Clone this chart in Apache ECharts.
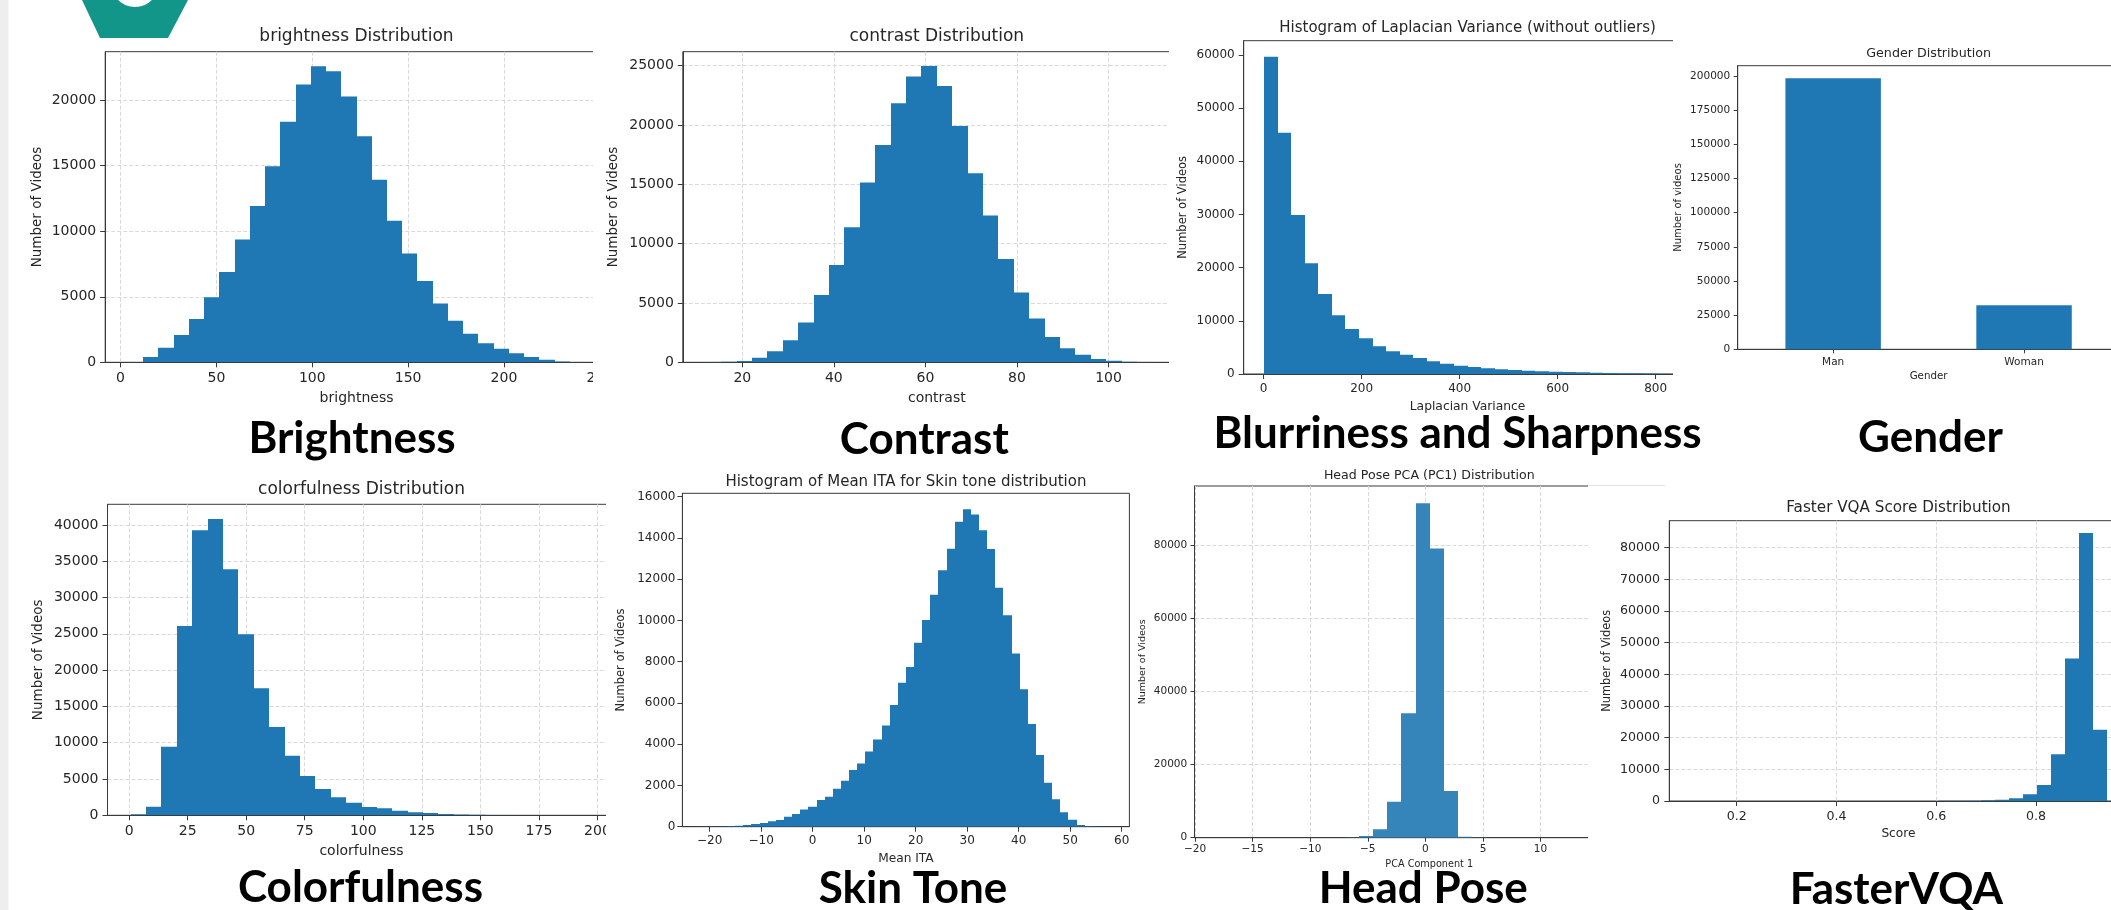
<!DOCTYPE html>
<html>
<head>
<meta charset="utf-8">
<title>Video dataset attribute distributions</title>
<script src="https://cdn.jsdelivr.net/npm/echarts@6.0.0/dist/echarts.min.js"></script>
<style>
  html, body { margin:0; padding:0; width:2111px; height:910px; overflow:hidden; background:#ffffff; }
  .clip { position:absolute; overflow:hidden; background:#ffffff; }
  .chart { position:absolute; width:2160px; height:910px; }
  .overlay { position:absolute; left:0; top:0; width:2111px; height:910px; pointer-events:none; }
</style>
</head>
<body>
<script>
// ================= DATA =================
// Brightness histogram (30 equal bins)
const brightnessBinStart = 3.9;
const brightnessBinWidth = 7.945;
const brightnessCounts = [15, 400, 1118, 2084, 3304, 4955, 6887, 9377, 11918, 14968, 18348, 21194, 22592, 22211, 20280, 17255, 13926, 10800, 8310, 6201, 4480, 3177, 2180, 1448, 1030, 700, 400, 200, 60, 15];
const brightnessXTicks = [0, 50, 100, 150, 200, 250];
const brightnessYTicks = [0, 5000, 10000, 15000, 20000];

// Contrast histogram
const contrastBinStart = 12.04;
const contrastBinWidth = 3.363;
const contrastCounts = [15, 40, 112, 393, 927, 1854, 3343, 5674, 8202, 11376, 15140, 18315, 21826, 24073, 24972, 23287, 19916, 15927, 12360, 8708, 5871, 3680, 2135, 1180, 646, 281, 140, 56, 20, 8];
const contrastXTicks = [20, 40, 60, 80, 100];
const contrastYTicks = [0, 5000, 10000, 15000, 20000, 25000];

// Laplacian variance histogram
const laplacianBinStart = 0.75;
const laplacianBinWidth = 27.7;
const laplacianCounts = [59690, 45392, 29906, 20815, 15047, 11034, 8464, 6708, 5204, 4263, 3636, 3009, 2382, 1944, 1567, 1317, 1066, 878, 752, 627, 502, 439, 376, 313, 251, 188, 157, 125, 94, 63];
const laplacianXTicks = [0, 200, 400, 600, 800];
const laplacianYTicks = [0, 10000, 20000, 30000, 40000, 50000, 60000];

// Gender bar chart
const genderCategories = ['Man', 'Woman'];
const genderCounts = [198300, 32200];
const genderYTicks = [0, 25000, 50000, 75000, 100000, 125000, 150000, 175000, 200000];

// Colorfulness histogram
const colorfulnessBinStart = 0.63;
const colorfulnessBinWidth = 6.574;
const colorfulnessCounts = [140, 1194, 9460, 26085, 39265, 40827, 33892, 24937, 17497, 12170, 8220, 5419, 3628, 2480, 1745, 1148, 964, 643, 413, 321, 184, 115, 69, 40, 25, 15, 10, 6, 4, 2];
const colorfulnessXTicks = [0, 25, 50, 75, 100, 125, 150, 175, 200];
const colorfulnessYTicks = [0, 5000, 10000, 15000, 20000, 25000, 30000, 35000, 40000];

// Skin tone (mean ITA) histogram, 50 bins
const skinToneBinStart = -21.35;
const skinToneBinWidth = 1.578;
const skinToneCounts = [4, 8, 15, 30, 50, 80, 130, 180, 260, 320, 485, 615, 840, 970, 1290, 1450, 1840, 2230, 2750, 3070, 3650, 4230, 4910, 5900, 6980, 7740, 8920, 10020, 11250, 12440, 13480, 14790, 15390, 15140, 14370, 13460, 11590, 10250, 8400, 6660, 4980, 3475, 2133, 1325, 695, 340, 80, 16, 5, 2];
const skinToneXTicks = [-20, -10, 0, 10, 20, 30, 40, 50, 60];
const skinToneYTicks = [0, 2000, 4000, 6000, 8000, 10000, 12000, 14000, 16000];

// Head pose PCA (PC1) histogram
const headPoseBinStart = -18.12;
const headPoseBinWidth = 1.233;
const headPoseCounts = [2, 0, 0, 1, 1, 2, 3, 8, 20, 60, 450, 2280, 9840, 33990, 91390, 79000, 12760, 270, 40, 10, 4, 2, 1, 1, 0, 0, 0, 0, 0, 1];
const headPoseXTicks = [-20, -15, -10, -5, 0, 5, 10, 15, 20];
const headPoseYTicks = [0, 20000, 40000, 60000, 80000];

// FasterVQA score histogram
const fasterVqaBinStart = 0.1013;
const fasterVqaBinWidth = 0.028;
const fasterVqaCounts = [1, 1, 1, 1, 1, 1, 1, 2, 2, 2, 3, 4, 5, 7, 10, 14, 20, 30, 45, 70, 110, 211, 422, 844, 2110, 5066, 14776, 44960, 84644, 22480];
const fasterVqaXTicks = [0.2, 0.4, 0.6, 0.8, 1.0];
const fasterVqaYTicks = [0, 10000, 20000, 30000, 40000, 50000, 60000, 70000, 80000];

// Captions under each panel
const captionTexts = ['Brightness', 'Contrast', 'Blurriness and Sharpness', 'Gender', 'Colorfulness', 'Skin Tone', 'Head Pose', 'FasterVQA'];

// ================= STYLE / LAYOUT =================
const FONT = 'DejaVu Sans';
const TEXT = '#262626';
const AX = '#3a3a3a';
const BAR = '#1f77b4';
const GRIDLINE = '#d9d9d9';

function fmt(v) {
  return String(+(+v).toFixed(6)).replace('-', '\u2212');
}

function textEl(text, x, y, size, extra) {
  return Object.assign({
    type: 'text', x: x, y: y, silent: true,
    style: {
      text: text, fontFamily: FONT, fontSize: size, fill: TEXT,
      align: 'center', verticalAlign: 'middle',
      textAlign: 'center', textVerticalAlign: 'middle'
    }
  }, extra || {});
}

function valueAxis(a) {
  return {
    type: 'value', min: a.min, max: a.max,
    name: a.name, nameLocation: 'middle', nameGap: a.nameGap, nameMoveOverlap: false,
    nameTextStyle: { fontFamily: FONT, fontSize: a.nameSize, color: TEXT },
    axisLine: { show: true, onZero: false, lineStyle: { color: AX, width: 1 } },
    axisTick: { show: true, inside: false, length: a.tickLen || 5, customValues: a.ticks, lineStyle: { color: AX, width: 1 } },
    axisLabel: { show: true, customValues: a.ticks, fontFamily: FONT, fontSize: a.labelSize, color: TEXT, margin: a.margin, formatter: fmt },
    splitLine: { show: !!a.grid, lineStyle: { color: GRIDLINE, type: [4, 2], width: 1 } },
    splitArea: { show: false }
  };
}

function gridBox(b) {
  return {
    left: b[0], top: b[1], width: b[2] - b[0], height: b[3] - b[1],
    show: true, borderColor: AX, borderWidth: 1, backgroundColor: 'rgba(0,0,0,0)',
    containLabel: false, outerBoundsMode: 'none'
  };
}

function histRender(color) {
  return function (params, api) {
    const top = api.coord([api.value(0), api.value(2)]);
    const base = api.coord([api.value(1), 0]);
    const x0 = Math.round(top[0]);
    const x1 = Math.round(base[0]);
    return {
      type: 'rect',
      shape: { x: x0, y: top[1], width: x1 - x0, height: base[1] - top[1] },
      style: { fill: color }
    };
  };
}

function histOption(o) {
  const data = o.counts.map(function (c, i) {
    return [o.binStart + i * o.binWidth, o.binStart + (i + 1) * o.binWidth, c];
  });
  return {
    animation: false,
    graphic: [textEl(o.title, o.titleX, o.titleY, o.titleSize)],
    grid: gridBox(o.box),
    xAxis: valueAxis(o.x),
    yAxis: valueAxis(o.y),
    series: [{
      type: 'custom', renderItem: histRender(o.color || BAR), data: data,
      encode: { x: [0, 1], y: 2 }, clip: true, silent: true
    }]
  };
}

function mountPanel(clip, option) {
  const c = document.createElement('div');
  c.className = 'clip';
  c.style.left = clip[0] + 'px'; c.style.top = clip[1] + 'px';
  c.style.width = clip[2] + 'px'; c.style.height = clip[3] + 'px';
  const el = document.createElement('div');
  el.className = 'chart';
  el.style.left = (-clip[0]) + 'px'; el.style.top = (-clip[1]) + 'px';
  c.appendChild(el);
  document.body.appendChild(c);
  const chart = echarts.init(el, null, { renderer: 'canvas', width: 2160, height: 910 });
  chart.setOption(option);
  return chart;
}

// ---------- Panel 1: brightness ----------
mountPanel([9, 0, 584, 415], histOption({
  counts: brightnessCounts, binStart: brightnessBinStart, binWidth: brightnessBinWidth,
  title: 'brightness Distribution', titleX: 356.5, titleY: 36.7, titleSize: 17,
  box: [105.2, 51.7, 607.9, 362.3],
  x: { min: -8.0, max: 254.2, ticks: brightnessXTicks, name: 'brightness', nameGap: 29, nameSize: 14, labelSize: 14, margin: 9, grid: true },
  y: { min: 0, max: 23700, ticks: brightnessYTicks, name: 'Number of Videos', nameGap: 61, nameSize: 13.5, labelSize: 14, margin: 9, grid: true }
}));

// ---------- Panel 2: contrast ----------
mountPanel([593, 0, 576, 415], histOption({
  counts: contrastCounts, binStart: contrastBinStart, binWidth: contrastBinWidth,
  title: 'contrast Distribution', titleX: 936.8, titleY: 36.7, titleSize: 17,
  box: [682.8, 51.7, 1190.8, 362.3],
  x: { min: 7.0, max: 117.97, ticks: contrastXTicks, name: 'contrast', nameGap: 29, nameSize: 14, labelSize: 14, margin: 9, grid: true },
  y: { min: 0, max: 26170, ticks: contrastYTicks, name: 'Number of Videos', nameGap: 62, nameSize: 13.5, labelSize: 14, margin: 9, grid: true }
}));

// ---------- Panel 3: Laplacian variance ----------
mountPanel([1169, 0, 504, 415], histOption({
  counts: laplacianCounts, binStart: laplacianBinStart, binWidth: laplacianBinWidth,
  title: 'Histogram of Laplacian Variance (without outliers)', titleX: 1467.6, titleY: 28.3, titleSize: 15,
  box: [1243.7, 40.7, 1691.5, 374],
  x: { min: -40.8, max: 873.3, ticks: laplacianXTicks, name: 'Laplacian Variance', nameGap: 26.5, nameSize: 12.3, labelSize: 12, margin: 8.5, grid: false },
  y: { min: 0, max: 62700, ticks: laplacianYTicks, name: 'Number of Videos', nameGap: 54.5, nameSize: 11.5, labelSize: 12, margin: 9, grid: false }
}));

// ---------- Panel 4: gender ----------
(function () {
  const yAx = valueAxis({ min: 0, max: 207500, ticks: genderYTicks, name: 'Number of videos', nameGap: 54, nameSize: 10, labelSize: 10.5, margin: 7.5, grid: false, tickLen: 4 });
  mountPanel([1673, 44, 438, 371], {
    animation: false,
    graphic: [textEl('Gender Distribution', 1928.6, 53.3, 12.7)],
    grid: gridBox([1737.7, 65.7, 2119.5, 349.3]),
    xAxis: {
      type: 'category', data: genderCategories, boundaryGap: true,
      name: 'Gender', nameLocation: 'middle', nameGap: 22, nameMoveOverlap: false,
      nameTextStyle: { fontFamily: FONT, fontSize: 10.3, color: TEXT },
      axisLine: { show: true, onZero: false, lineStyle: { color: AX, width: 1 } },
      axisTick: { show: true, alignWithLabel: true, length: 4, lineStyle: { color: AX, width: 1 } },
      axisLabel: { show: true, fontFamily: FONT, fontSize: 10.5, color: TEXT, margin: 7, interval: 0 },
      splitLine: { show: false }
    },
    yAxis: yAx,
    series: [{ type: 'bar', data: genderCounts, barWidth: '50%', itemStyle: { color: BAR }, silent: true }]
  });
})();

// ---------- Panel 5: colorfulness ----------
mountPanel([9, 462, 597, 448], histOption({
  counts: colorfulnessCounts, binStart: colorfulnessBinStart, binWidth: colorfulnessBinWidth,
  title: 'colorfulness Distribution', titleX: 361.5, titleY: 490, titleSize: 17,
  box: [107.5, 504.3, 615.5, 815.3],
  x: { min: -9.23, max: 207.7, ticks: colorfulnessXTicks, name: 'colorfulness', nameGap: 29.5, nameSize: 14, labelSize: 14, margin: 9, grid: true },
  y: { min: 0, max: 42850, ticks: colorfulnessYTicks, name: 'Number of Videos', nameGap: 62, nameSize: 13.5, labelSize: 14, margin: 9, grid: true }
}));

// ---------- Panel 6: skin tone ----------
mountPanel([606, 462, 526, 448], histOption({
  counts: skinToneCounts, binStart: skinToneBinStart, binWidth: skinToneBinWidth,
  title: 'Histogram of Mean ITA for Skin tone distribution', titleX: 905.9, titleY: 481.7, titleSize: 15,
  box: [682.4, 493.3, 1129.4, 826.7],
  x: { min: -25.3, max: 61.5, ticks: skinToneXTicks, name: 'Mean ITA', nameGap: 26.5, nameSize: 12.2, labelSize: 12, margin: 8, grid: false },
  y: { min: 0, max: 16165, ticks: skinToneYTicks, name: 'Number of Videos', nameGap: 55, nameSize: 11.5, labelSize: 12, margin: 7, grid: false }
}));

// ---------- Panel 7: head pose ----------
mountPanel([1132, 462, 456, 448], histOption({
  counts: headPoseCounts, binStart: headPoseBinStart, binWidth: headPoseBinWidth, color: '#3585bb',
  title: 'Head Pose PCA (PC1) Distribution', titleX: 1429.3, titleY: 475.7, titleSize: 12.6,
  box: [1194.5, 486, 1664, 837.7],
  x: { min: -20.05, max: 20.72, ticks: headPoseXTicks, name: 'PCA Component 1', nameGap: 22, nameSize: 9.7, labelSize: 10.5, margin: 6.5, grid: true, tickLen: 4 },
  y: { min: 0, max: 96100, ticks: headPoseYTicks, name: 'Number of Videos', nameGap: 46.5, nameSize: 9.5, labelSize: 10.5, margin: 7.3, grid: true, tickLen: 4 }
}));

// ---------- Panel 8: FasterVQA ----------
mountPanel([1588, 485, 523, 425], histOption({
  counts: fasterVqaCounts, binStart: fasterVqaBinStart, binWidth: fasterVqaBinWidth,
  title: 'Faster VQA Score Distribution', titleX: 1898.5, titleY: 508.3, titleSize: 15.2,
  box: [1669.3, 520.7, 2127.6, 801],
  x: { min: 0.065, max: 0.9833, ticks: fasterVqaXTicks, name: 'Score', nameGap: 26.5, nameSize: 12.2, labelSize: 12.6, margin: 9.3, grid: true },
  y: { min: 0, max: 88500, ticks: fasterVqaYTicks, name: 'Number of Videos', nameGap: 57, nameSize: 11.4, labelSize: 12.6, margin: 9.3, grid: true }
}));

// ---------- Overlay: logo, side strip, captions ----------
(function () {
  const el = document.createElement('div');
  el.className = 'overlay';
  document.body.appendChild(el);
  const ov = echarts.init(el, null, { renderer: 'canvas', width: 2111, height: 910 });
  const capPos = [[352, 438.5], [924.3, 439.5], [1457.5, 433.5], [1930.5, 438], [360.5, 888], [913, 888.5], [1423.3, 889], [1896.4, 890]];
  const caps = captionTexts.map(function (t, i) {
    return {
      type: 'text', x: capPos[i][0], y: capPos[i][1], silent: true, z: 10,
      style: {
        text: t, fontFamily: 'Lato', fontWeight: 'bold', fontSize: 44, fill: '#000000',
        align: 'center', verticalAlign: 'middle', textAlign: 'center', textVerticalAlign: 'middle'
      }
    };
  });
  ov.setOption({
    animation: false,
    graphic: [
      { type: 'rect', silent: true, shape: { x: 0, y: 0, width: 8.5, height: 910 }, style: { fill: '#eeeeee' } },
      { type: 'polygon', silent: true, shape: { points: [[82, 0], [188, 0], [168, 38], [100, 38]] }, style: { fill: '#13968a' } },
      { type: 'circle', silent: true, shape: { cx: 135, cy: -17, r: 24 }, style: { fill: '#ffffff' } },
      { type: 'line', silent: true, shape: { x1: 1588, y1: 485.5, x2: 1665, y2: 485.5 }, style: { stroke: '#e4e4e4', lineWidth: 1 } }
    ].concat(caps)
  });
})();
</script>
</body>
</html>
